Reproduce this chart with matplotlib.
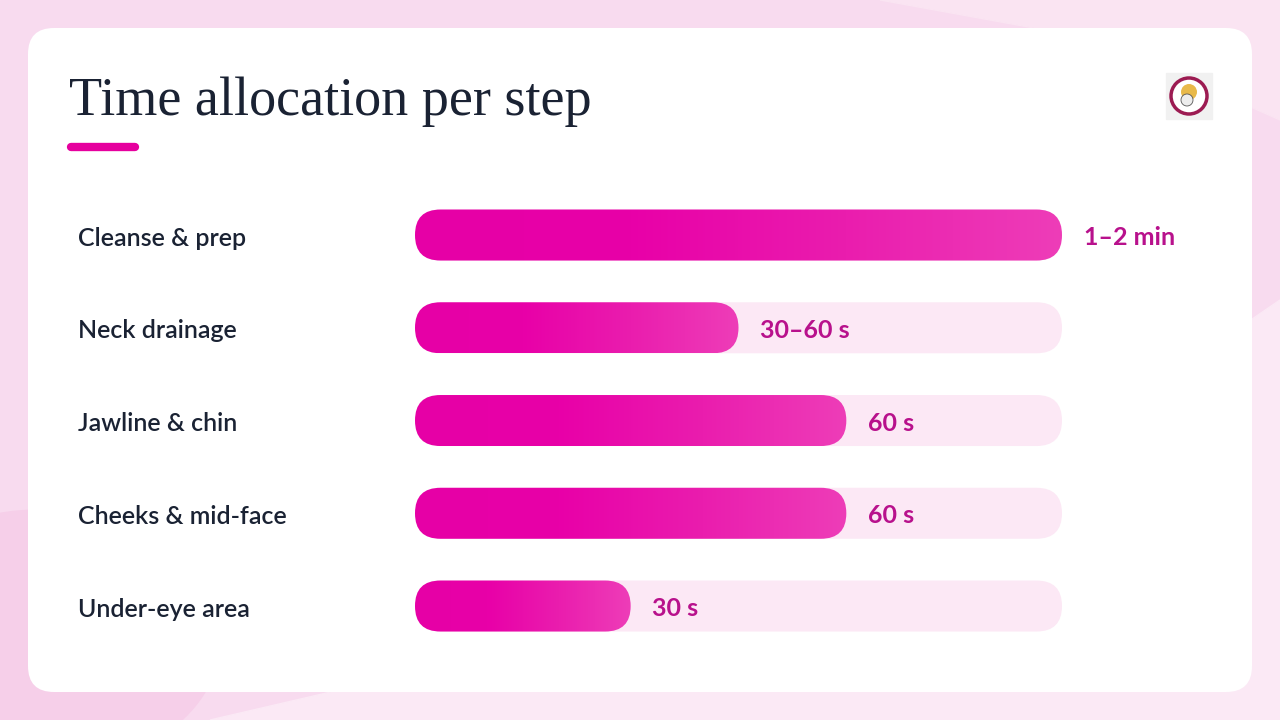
import numpy as np
import matplotlib.pyplot as plt
from matplotlib.patches import FancyBboxPatch, Circle, Polygon, Ellipse
from matplotlib.colors import LinearSegmentedColormap
import matplotlib.transforms as mtransforms

# dados
steps = ["Cleanse & prep", "Neck drainage", "Jawline & chin", "Cheeks & mid-face", "Under-eye area"]
seconds = [90, 45, 60, 60, 30]          # ponto medio de cada faixa
value_labels = ["1–2 min", "30–60 s", "60 s", "60 s", "30 s"]
scale_max = 90

W, H = 1280, 720
fig = plt.figure(figsize=(W / 100, H / 100), dpi=100)

# fundo e cartao (coordenadas em pixels)
bg = fig.add_axes([0, 0, 1, 1])
bg.set_xlim(0, W)
bg.set_ylim(H, 0)
bg.axis("off")
bg.add_patch(plt.Rectangle((0, 0), W, H, color="#F8DBEF", zorder=0))
bg.add_patch(Polygon([(210, 720), (1280, 720), (1280, 300), (900, 560)], closed=True,
                     color="#FBE9F5", zorder=0.5))
bg.add_patch(Polygon([(880, 0), (1280, 0), (1280, 120), (1100, 40)], closed=True,
                     color="#FAE4F2", zorder=0.5))
bg.add_patch(Ellipse((40, 640), 360, 260, color="#F6CFE9", zorder=0.6))
bg.add_patch(FancyBboxPatch((28, 28), 1224, 664, boxstyle="round,pad=0,rounding_size=26",
                            fc="white", ec="none", zorder=1))

# titulo
bg.text(69, 115, "Time allocation per step", fontsize=39, family="Liberation Serif",
        color="#1A2233", va="baseline", ha="left", zorder=2)
bg.plot([71, 135], [147, 147], color="#E6009E", lw=6, solid_capstyle="round", zorder=2)

# logo
bg.add_patch(plt.Rectangle((1166, 73), 46, 46, color="#F1F1F1", zorder=2))
bg.add_patch(Circle((1189, 96), 18, fc="#FFFFFF", ec="#9C1B52", lw=2.5, zorder=3))
bg.add_patch(Circle((1189, 92), 8, fc="#E8B94A", ec="none", zorder=3))
bg.add_patch(Circle((1187, 100), 6, fc="#EDEDED", ec="#555555", lw=0.6, zorder=3))

# barras
ax = fig.add_axes([415 / W, 1 - 652.4 / H, 647 / W, 463.75 / H])
ax.set_xlim(0, scale_max)
ax.set_ylim(len(steps) - 0.5, -0.5)
ax.axis("off")
ax.patch.set_alpha(0)

bar_h = 0.55
ux = scale_max / 647.0
uy = 1 / 92.75
r = 25.5 * ux
asp = uy / ux
cmap = LinearSegmentedColormap.from_list("pinks", ["#E600A6", "#E800A8", "#EA1DAE", "#EE3DB8"])
grad = np.linspace(0, 1, 256).reshape(1, -1)

for i, (val, lab) in enumerate(zip(seconds, value_labels)):
    track = FancyBboxPatch((0, i - bar_h / 2), scale_max, bar_h,
                           boxstyle=f"round,pad=0,rounding_size={r}", mutation_aspect=asp,
                           fc="#FCE8F5", ec="none", zorder=1)
    ax.add_patch(track)
    bar = FancyBboxPatch((0, i - bar_h / 2), val, bar_h,
                         boxstyle=f"round,pad=0,rounding_size={r}", mutation_aspect=asp,
                         fc="none", ec="none", zorder=2)
    ax.add_patch(bar)
    im = ax.imshow(grad, cmap=cmap, aspect="auto", extent=[0, val, i + bar_h / 2, i - bar_h / 2],
                   zorder=2, interpolation="bilinear")
    im.set_clip_path(bar)
    ax.annotate(lab, (val, i + 0.108), xytext=(15.5, 0), textcoords="offset points",
                va="baseline", ha="left", fontsize=18, family="Lato", weight="bold",
                color="#B8118C", zorder=3)

ax.set_xlim(0, scale_max)
ax.set_ylim(len(steps) - 0.5, -0.5)

# rotulos das etapas
tr = mtransforms.blended_transform_factory(fig.transFigure, ax.transData)
for i, s in enumerate(steps):
    ax.text(78 / W, i + 0.115, s, transform=tr, va="baseline", ha="left", fontsize=18,
            family="Lato", weight="semibold", color="#1A2233")

fig.savefig("out.png", dpi=100)
